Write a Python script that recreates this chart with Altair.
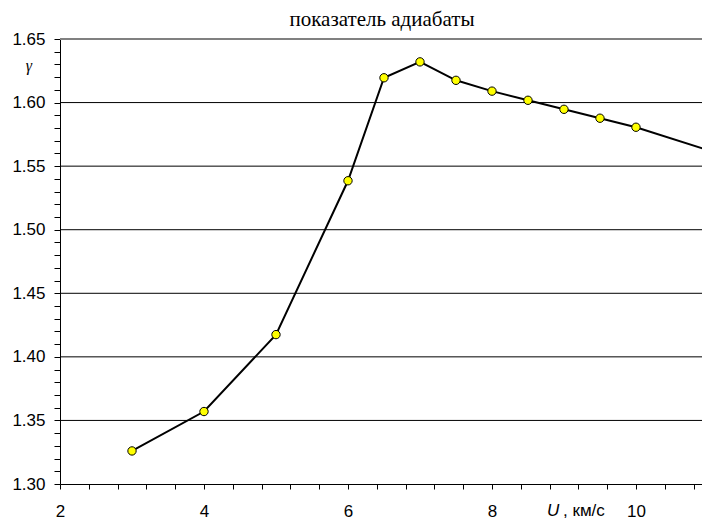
import altair as alt
import pandas as pd

# Adiabatic index gamma versus velocity U (km/s)
u_values = [3, 4, 5, 6, 6.5, 7, 7.5, 8, 8.5, 9, 9.5, 10, 11]
gamma_values = [1.326, 1.357, 1.4175, 1.5385, 1.6195, 1.632, 1.6175, 1.609,
                1.6018, 1.5947, 1.5877, 1.5806, 1.5626]

# Axis tick positions
x_ticks = [round(2 + 0.4 * i, 1) for i in range(23)]
y_ticks = [round(1.30 + 0.01 * i, 2) for i in range(36)]
grid_values = [1.35, 1.40, 1.45, 1.50, 1.55, 1.60]
top_value = [1.65]

X_MIN, X_MAX = 2, 10.917
Y_MIN, Y_MAX = 1.30, 1.65

df = pd.DataFrame({"u": u_values, "gamma": gamma_values})

x_scale = alt.Scale(domain=[X_MIN, X_MAX], nice=False, zero=False)
y_scale = alt.Scale(domain=[Y_MIN, Y_MAX], nice=False, zero=False)

x_axis = alt.Axis(
    values=x_ticks,
    labelExpr="(round(datum.value * 10) % 20 == 0) ? format(datum.value, 'd') : ''",
    title=None,
)
y_axis = alt.Axis(
    values=y_ticks,
    labelExpr="(round(datum.value * 100) % 5 == 0) ? format(datum.value, '.2f') : ''",
    title=None,
)

base = alt.Chart(df)

grid = alt.Chart(pd.DataFrame({"g": grid_values})).mark_rule(
    color="black", strokeWidth=1
).encode(y=alt.Y("g:Q", scale=y_scale, axis=y_axis))

top_line = alt.Chart(pd.DataFrame({"g": top_value})).mark_rule(
    color="#808080", strokeWidth=2
).encode(y=alt.Y("g:Q", scale=y_scale, axis=y_axis))

line = base.mark_line(color="black", strokeWidth=2, clip=True).encode(
    x=alt.X("u:Q", scale=x_scale, axis=x_axis),
    y=alt.Y("gamma:Q", scale=y_scale, axis=y_axis),
)

points = base.transform_filter("datum.u <= 10").mark_point(
    filled=True, fill="#ffff00", stroke="black", strokeWidth=1,
    size=70, opacity=1, clip=True,
).encode(
    x=alt.X("u:Q", scale=x_scale, axis=x_axis),
    y=alt.Y("gamma:Q", scale=y_scale, axis=y_axis),
)

label_df = pd.DataFrame({"t": [0]})

title_text = alt.Chart(label_df).mark_text(
    text="показатель адиабаты", font="Liberation Serif", fontSize=21,
    color="black", align="center", baseline="alphabetic",
).encode(x=alt.value(322), y=alt.value(-13))

gamma_label = alt.Chart(label_df).mark_text(
    text="γ", font="Liberation Serif", fontSize=16, fontStyle="italic",
    color="black", align="center", baseline="middle",
).encode(x=alt.value(-31), y=alt.value(27))

u_label = alt.Chart(label_df).mark_text(
    text="U", font="Liberation Sans", fontSize=17, fontStyle="italic",
    color="black", align="left", baseline="alphabetic",
).encode(x=alt.value(487), y=alt.value(477))

unit_label = alt.Chart(label_df).mark_text(
    text=", км/с", font="Liberation Sans", fontSize=17,
    color="black", align="left", baseline="alphabetic",
).encode(x=alt.value(503), y=alt.value(477))

chart = alt.layer(
    grid, top_line, line, points, title_text, gamma_label, u_label, unit_label
).properties(
    width=642, height=445,
    autosize=alt.AutoSizeParams(type="none"),
    padding={"left": 60, "top": 39, "right": 0, "bottom": 35},
    background="white",
).configure_view(
    stroke=None
).configure_axis(
    grid=False, tickColor="black", domainColor="black", domainWidth=1,
    tickWidth=1, labelFont="Liberation Sans", labelFontSize=17,
    labelColor="black", labelFlush=False, labelOverlap=False,
    labelBound=False,
).configure_axisX(
    tickSize=5, labelBaseline="alphabetic", labelPadding=27,
).configure_axisY(
    tickSize=6, labelBaseline="middle", labelPadding=9,
)

chart.save("out.html", embed_options={"renderer": "svg", "actions": False})
